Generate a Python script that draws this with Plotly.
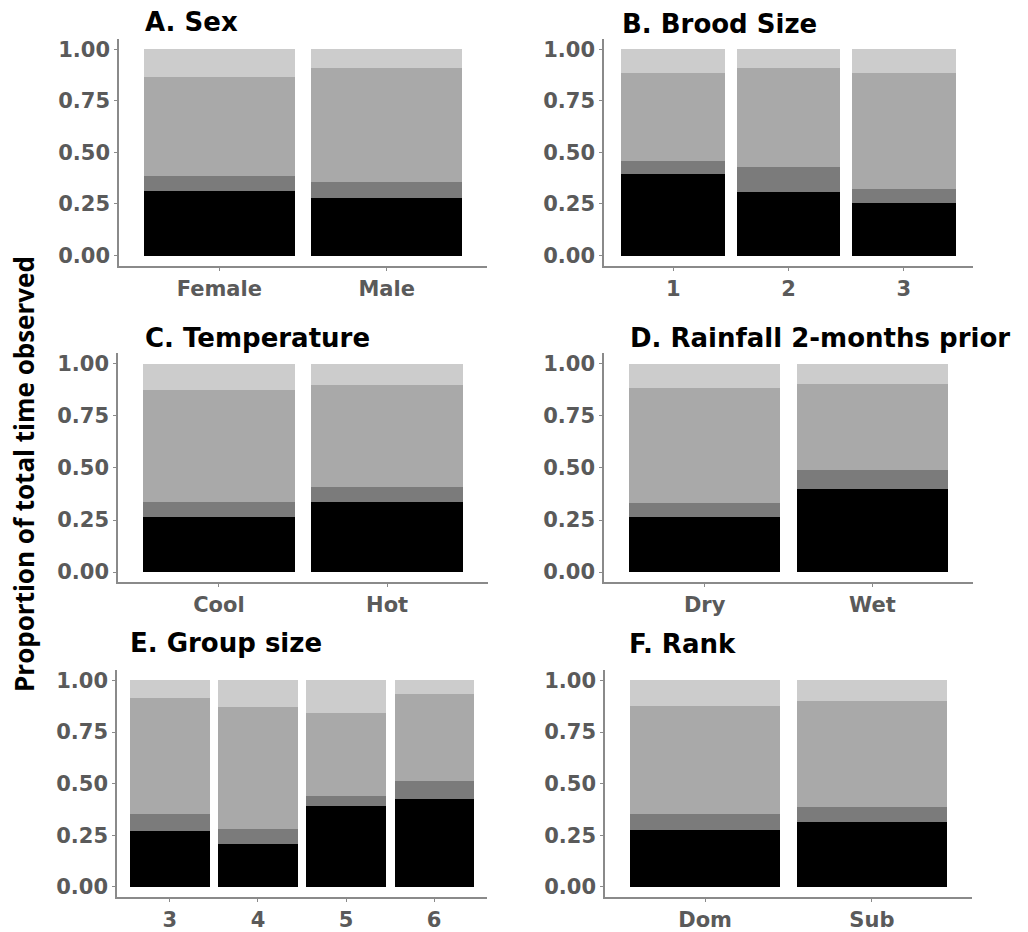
import plotly.graph_objects as go

# ---------------- data (stack segments, bottom to top) ----------------
sex_cats = ["Female", "Male"]
sex_black = [0.313, 0.281]
sex_dark = [0.074, 0.073]
sex_mid = [0.478, 0.553]
sex_light = [0.135, 0.093]

brood_cats = ["1", "2", "3"]
brood_black = [0.396, 0.310, 0.255]
brood_dark = [0.060, 0.117, 0.066]
brood_mid = [0.427, 0.480, 0.562]
brood_light = [0.117, 0.093, 0.117]

temp_cats = ["Cool", "Hot"]
temp_black = [0.264, 0.339]
temp_dark = [0.075, 0.072]
temp_mid = [0.538, 0.488]
temp_light = [0.123, 0.101]

rain_cats = ["Dry", "Wet"]
rain_black = [0.264, 0.401]
rain_dark = [0.070, 0.087]
rain_mid = [0.549, 0.414]
rain_light = [0.117, 0.098]

group_cats = ["3", "4", "5", "6"]
group_black = [0.271, 0.208, 0.393, 0.425]
group_dark = [0.083, 0.071, 0.048, 0.090]
group_mid = [0.562, 0.592, 0.402, 0.419]
group_light = [0.084, 0.129, 0.157, 0.066]

rank_cats = ["Dom", "Sub"]
rank_black = [0.277, 0.313]
rank_dark = [0.074, 0.072]
rank_mid = [0.523, 0.515]
rank_light = [0.126, 0.100]

titles = ["A. Sex", "B. Brood Size", "C. Temperature",
          "D. Rainfall 2-months prior", "E. Group size", "F. Rank"]
y_ticks = [0.0, 0.25, 0.5, 0.75, 1.0]
y_ticklabels = ["0.00", "0.25", "0.50", "0.75", "1.00"]
y_title = "Proportion of total time observed"

colors = ["#000000", "#7b7b7b", "#a9a9a9", "#cccccc"]

panels = [
    (sex_cats, [sex_black, sex_dark, sex_mid, sex_light]),
    (brood_cats, [brood_black, brood_dark, brood_mid, brood_light]),
    (temp_cats, [temp_black, temp_dark, temp_mid, temp_light]),
    (rain_cats, [rain_black, rain_dark, rain_mid, rain_light]),
    (group_cats, [group_black, group_dark, group_mid, group_light]),
    (rank_cats, [rank_black, rank_dark, rank_mid, rank_light]),
]

W, H = 1028, 932
# plot areas in pixels: (left, right, top, bottom)
boxes = [
    (119, 487, 38, 266),
    (604, 973, 38, 266),
    (118, 488, 354, 584),
    (604, 973, 354, 584),
    (117, 487, 672, 900),
    (605, 972, 672, 900),
]
# title positions: (left x, center y)
title_pos = [(143, 21), (620, 23), (143, 338), (628, 338), (128, 645), (627, 646)]

fig = go.Figure()
tick_font = dict(family="DejaVu Sans", size=21, color="#5a5a5a", weight="bold")

for i, ((cats, segs), box) in enumerate(zip(panels, boxes)):
    n = i + 1
    xa = "x" if n == 1 else f"x{n}"
    ya = "y" if n == 1 else f"y{n}"
    for seg, col in zip(segs, colors):
        fig.add_trace(go.Bar(x=cats, y=seg, marker=dict(color=col, line=dict(width=0)),
                             xaxis=xa, yaxis=ya, showlegend=False))
    l, r, t, b = box
    xkey = "xaxis" if n == 1 else f"xaxis{n}"
    ykey = "yaxis" if n == 1 else f"yaxis{n}"
    fig.update_layout({
        xkey: dict(domain=[l / W, r / W], anchor=ya, type="category",
                   range=[-0.6, len(cats) - 1 + 0.6],
                   showline=True, linecolor="#8a8a8a", linewidth=1.5,
                   ticks="outside", ticklen=3, tickcolor="#8a8a8a", tickwidth=1,
                   showgrid=False, zeroline=False, tickfont=tick_font,
                   fixedrange=True),
        ykey: dict(domain=[1 - b / H, 1 - t / H], anchor=xa,
                   range=[-0.05, 1.05], tickvals=y_ticks, ticktext=y_ticklabels,
                   showline=True, linecolor="#8a8a8a", linewidth=1.5,
                   ticks="outside", ticklen=3, tickcolor="#8a8a8a", tickwidth=1,
                   showgrid=False, zeroline=False, tickfont=tick_font,
                   fixedrange=True),
    })
    tx, ty = title_pos[i]
    fig.add_annotation(text=titles[i], xref="paper", yref="paper",
                       x=tx / W, y=1 - ty / H, xanchor="left", yanchor="middle",
                       showarrow=False,
                       font=dict(family="DejaVu Sans", size=26, color="#000000", weight="bold"))

fig.add_annotation(text=y_title, xref="paper", yref="paper",
                   x=24 / W, y=1 - 475 / H, xanchor="center", yanchor="middle",
                   textangle=-90, showarrow=False,
                   font=dict(family="Open Sans", size=26, color="#000000", weight="bold"))

fig.update_layout(barmode="stack", bargap=0.1, width=W, height=H,
                  margin=dict(l=0, r=0, t=0, b=0),
                  plot_bgcolor="white", paper_bgcolor="white")

fig.write_html("out.html")
